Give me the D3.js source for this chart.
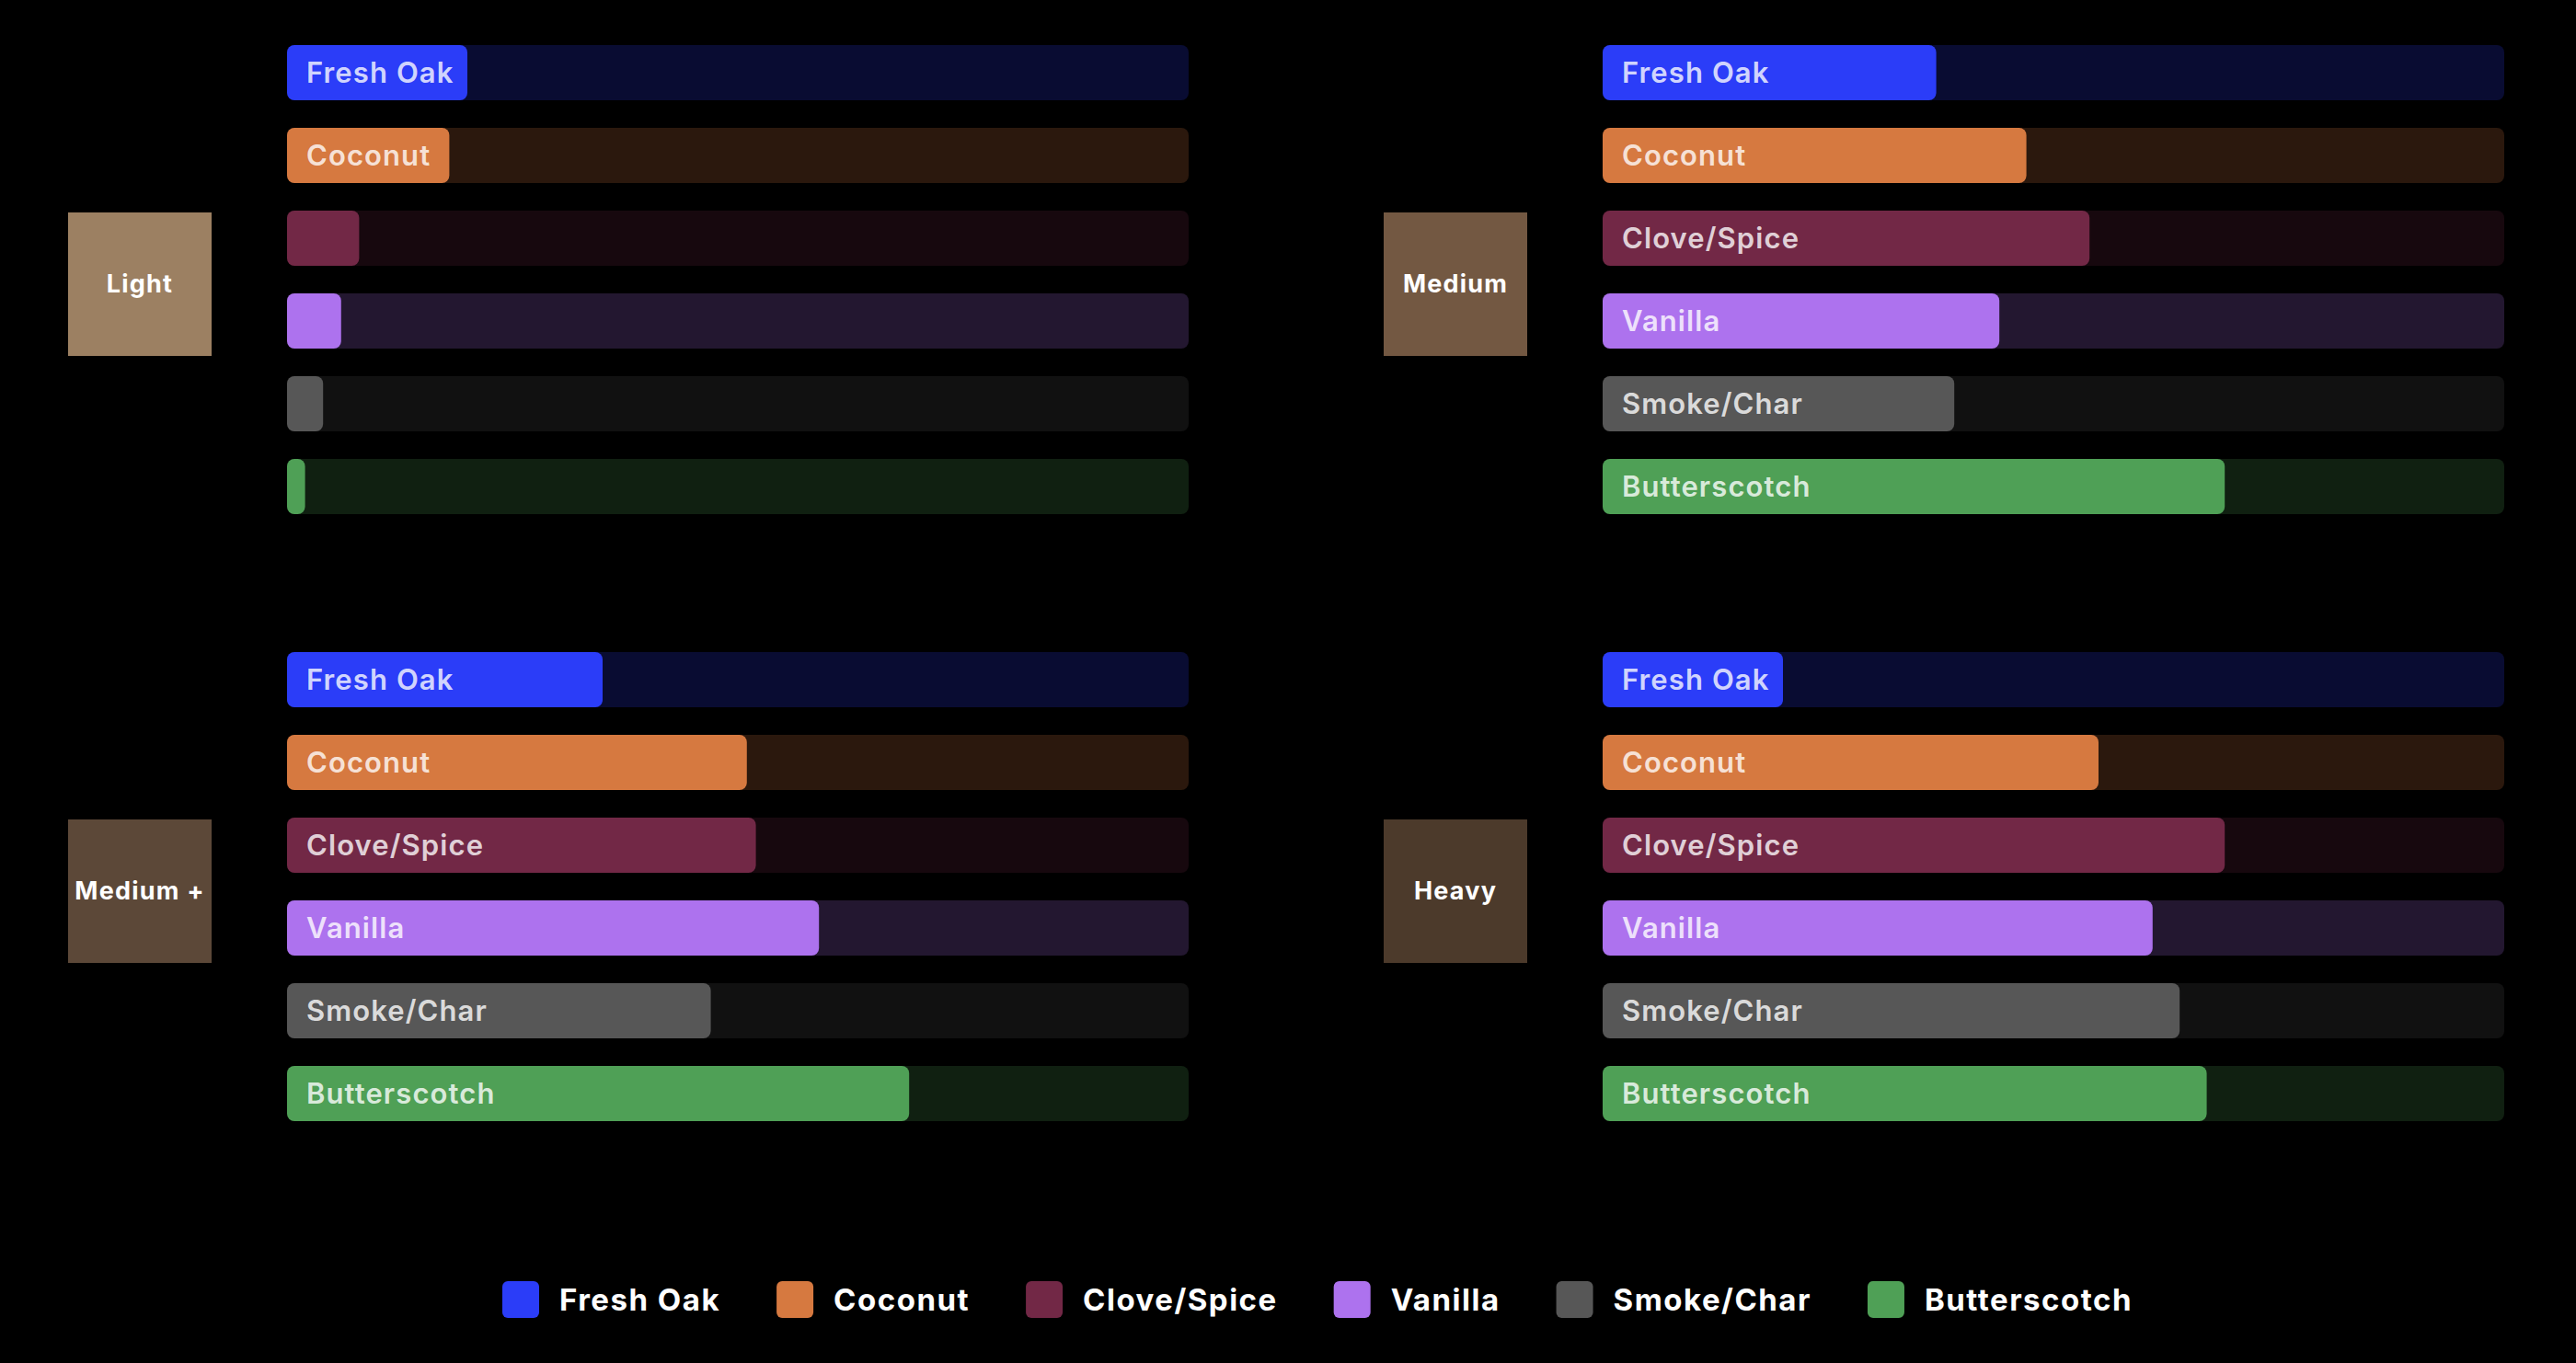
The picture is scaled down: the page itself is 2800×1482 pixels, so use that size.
<!DOCTYPE html>
<html>
<head>
<meta charset="utf-8">
<script src="https://cdn.jsdelivr.net/npm/d3@7"></script>
<style>
  html, body { margin: 0; padding: 0; background: #000; }
  svg { display: block; }
</style>
</head>
<body>
<svg id="chart" width="2800" height="1482"></svg>
<script>
// Flavour profile by toast level
const flavors = ["Fresh Oak", "Coconut", "Clove/Spice", "Vanilla", "Smoke/Char", "Butterscotch"];
const flavorColors = ["#2b3df8", "#d67940", "#722846", "#ad72ee", "#575757", "#4fa056"];

const toastLevels = ["Light", "Medium", "Medium +", "Heavy"];
const toastColors = ["#9c8062", "#735842", "#5c4838", "#4c3a2b"];

const lightValues   = [2.0, 1.8, 0.8, 0.6, 0.4, 0.2];
const mediumValues  = [3.7, 4.7, 5.4, 4.4, 3.9, 6.9];
const mediumPValues = [3.5, 5.1, 5.2, 5.9, 4.7, 6.9];
const heavyValues   = [2.0, 5.5, 6.9, 6.1, 6.4, 6.7];
const valuesByLevel = [lightValues, mediumValues, mediumPValues, heavyValues];

const svg = d3.select("#chart");

const trackWidth = 980;
const labelFont = "Inter, 'Open Sans', sans-serif";

const x = d3.scaleLinear().domain([0, 10]).range([0, trackWidth]);
const y = d3.scaleBand().domain(flavors).range([0, 510]).paddingInner(1 / 3).paddingOuter(0);
const color = d3.scaleOrdinal().domain(flavors).range(flavorColors);

// panel origins (track left, first row top)
const panelPos = [[312, 49], [1742, 49], [312, 709], [1742, 709]];

toastLevels.forEach((level, i) => {
    const g = svg.append("g").attr("transform", `translate(${panelPos[i][0]},${panelPos[i][1]})`);
    const rows = flavors.map((f, j) => ({ flavor: f, value: valuesByLevel[i][j] }));

    // toast swatch box
    const box = g.append("g").attr("transform", `translate(-238, ${260 - 78})`);
    box.append("rect").attr("width", 156).attr("height", 156).attr("fill", toastColors[i]);
    box.append("text")
        .attr("x", 78).attr("y", 78).attr("dy", "0.35em")
        .attr("text-anchor", "middle")
        .attr("fill", "#fff")
        .style("font-family", labelFont)
        .style("font-weight", 700)
        .style("font-size", "27px")
        .style("letter-spacing", "1.2px")
        .text(level);

    const row = g.selectAll(".row").data(rows).join("g")
        .attr("class", "row")
        .attr("transform", d => `translate(0,${y(d.flavor)})`);

    row.append("rect")
        .attr("width", trackWidth).attr("height", y.bandwidth())
        .attr("rx", 8)
        .attr("fill", d => color(d.flavor)).attr("fill-opacity", 0.2);

    row.append("rect")
        .attr("width", d => x(d.value)).attr("height", y.bandwidth())
        .attr("rx", 8)
        .attr("fill", d => color(d.flavor));

    row.append("text")
        .attr("x", 21).attr("y", y.bandwidth() / 2).attr("dy", "0.36em")
        .attr("fill", "#fff").attr("fill-opacity", 0.8)
        .style("font-family", labelFont)
        .style("font-weight", 600)
        .style("font-size", "31px")
        .style("letter-spacing", "1.1px")
        .text(d => d.flavor)
        .each(function (d) {
            // hide labels that do not fit inside the filled bar
            if (this.getComputedTextLength() + 30 > x(d.value)) d3.select(this).remove();
        });
});

// legend
const legend = svg.append("g");
let cursor = 0;
flavors.forEach(f => {
    const item = legend.append("g").attr("transform", `translate(${cursor},0)`);
    item.append("rect")
        .attr("y", -20).attr("width", 40).attr("height", 40).attr("rx", 6)
        .attr("fill", color(f));
    const t = item.append("text")
        .attr("x", 62).attr("dy", "0.36em")
        .attr("fill", "#fff")
        .style("font-family", labelFont)
        .style("font-weight", 700)
        .style("font-size", "33px")
        .style("letter-spacing", "1.5px")
        .text(f);
    cursor += 62 + t.node().getComputedTextLength() + 61;
});
const legendWidth = cursor - 61;
legend.attr("transform", `translate(${1432 - legendWidth / 2},1413)`);
</script>
</body>
</html>
